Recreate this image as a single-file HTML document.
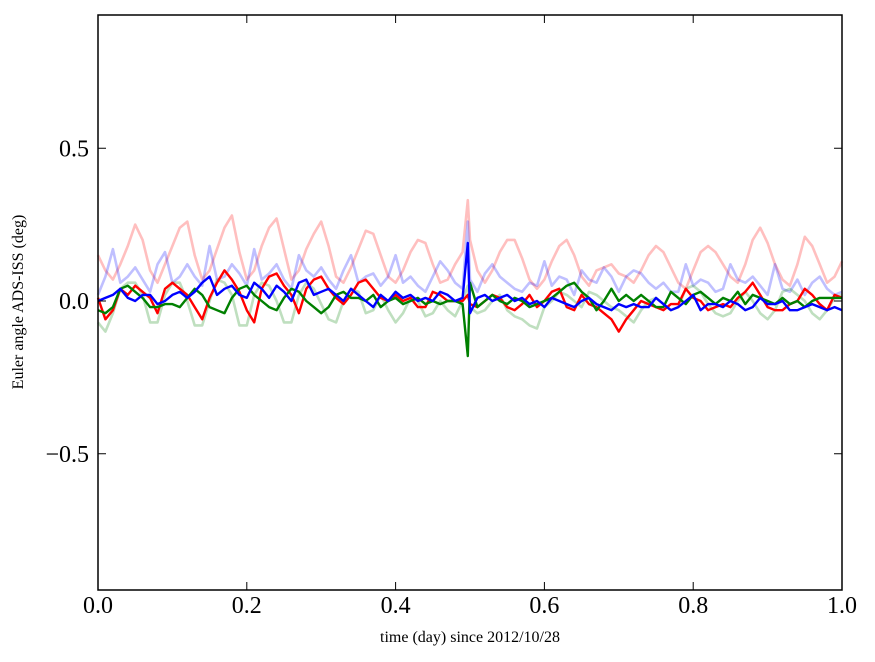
<!DOCTYPE html>
<html><head><meta charset="utf-8"><style>
html,body{margin:0;padding:0;background:#fff;}
svg{display:block;font-family:"Liberation Serif",serif;}
</style></head><body>
<svg id="chart" width="875" height="662" viewBox="0 0 875 662" xmlns="http://www.w3.org/2000/svg">
<rect x="0" y="0" width="875" height="662" fill="#fff"/>
<g id="series"></g>
<g id="axes"></g>
<text x="470" y="642" text-anchor="middle" font-size="16">time (day) since 2012/10/28</text>
<text transform="translate(23,302) rotate(-90)" text-anchor="middle" font-size="16">Euler angle ADS-ISS (deg)</text>
</svg>
<script>
const times=[0,.01,.02,.03,.04,.05,.06,.07,.08,.09,.10,.11,.12,.13,.14,.15,.16,.17,.18,.19,.20,.21,.22,.23,.24,.25,.26,.27,.28,.29,.30,.31,.32,.33,.34,.35,.36,.37,.38,.39,.40,.41,.42,.43,.44,.45,.46,.47,.48,.49,.497,.50,.51,.52,.53,.54,.55,.56,.57,.58,.59,.60,.61,.62,.63,.64,.65,.66,.67,.68,.69,.70,.71,.72,.73,.74,.75,.76,.77,.78,.79,.80,.81,.82,.83,.84,.85,.86,.87,.88,.89,.90,.91,.92,.93,.94,.95,.96,.97,.98,.99,1.00];
const lightRed=[.15,.1,.07,.12,.18,.25,.2,.1,.06,.12,.18,.24,.26,.15,.07,.1,.17,.24,.28,.16,.07,.1,.18,.24,.27,.17,.07,.1,.17,.22,.26,.18,.08,.06,.11,.17,.23,.22,.15,.08,.06,.1,.16,.2,.19,.12,.06,.07,.12,.16,.33,.2,.1,.06,.1,.16,.2,.2,.14,.07,.04,.07,.13,.18,.2,.15,.08,.05,.1,.11,.12,.09,.08,.06,.1,.15,.18,.16,.11,.06,.04,.1,.16,.18,.16,.12,.08,.06,.12,.2,.24,.19,.12,.07,.05,.12,.21,.18,.12,.06,.08,.13];
const lightBlue=[.02,.08,.17,.06,.08,.11,.07,.03,.12,.16,.06,.08,.12,.08,.05,.18,.07,.08,.12,.09,.05,.17,.07,.09,.12,.07,.04,.15,.1,.08,.11,.07,.04,.1,.15,.06,.08,.09,.05,.08,.15,.06,.08,.05,.03,.08,.13,.1,.06,.04,.26,.07,.03,.09,.12,.08,.06,.04,.03,.06,.05,.13,.05,.08,.07,.02,.1,.07,.06,.11,.08,.03,.08,.1,.09,.06,.04,.06,.03,.03,.12,.05,.07,.06,.03,.04,.12,.07,.06,.08,.05,.02,.12,.04,.03,.07,.02,.06,.08,.04,.02,.03];
const lightGreen=[-.07,-.1,-.04,.04,.06,.06,.02,-.07,-.07,.02,.06,.06,0,-.08,-.08,0,.07,.06,.02,-.08,-.08,.02,.06,.05,0,-.07,-.07,.02,.06,.04,-.01,-.06,-.07,0,.04,.03,-.04,-.03,.02,-.03,-.07,-.04,.01,0,-.05,-.04,0,-.03,-.05,0,.05,-.02,-.04,-.03,0,.02,-.03,-.05,-.06,-.08,-.09,-.02,0,.03,.02,0,-.02,.03,.02,0,-.02,-.03,-.05,-.07,-.03,0,.01,-.01,-.03,-.02,.04,.05,.03,-.01,-.04,-.05,-.04,0,.03,0,-.04,-.06,-.03,.03,.04,.02,0,-.04,-.06,-.03,.01,.02];
const redVals=[.01,-.06,-.03,.04,.02,.05,.03,.01,-.04,.04,.06,.04,.02,-.02,-.06,.01,.06,.1,.07,.03,-.03,-.07,.04,.08,.09,.05,.02,-.04,.04,.07,.08,.04,.01,-.01,.02,.06,.07,.04,.01,0,.02,0,.01,-.02,-.02,.03,.02,0,0,0,.02,-.01,-.02,0,.02,.01,-.02,-.03,-.01,.02,-.02,0,.03,.04,-.02,-.03,.02,-.01,-.02,-.04,-.06,-.1,-.06,-.03,0,-.01,-.02,-.03,-.01,-.01,.04,.01,0,-.03,-.02,-.01,-.02,.01,.03,.06,.02,-.02,-.03,-.03,-.01,0,.04,.02,-.01,-.03,.02,.01];
const greenVals=[-.03,-.04,-.02,.04,.05,.03,.01,-.02,-.02,-.01,-.01,-.02,.01,.04,.02,-.02,-.03,-.04,.01,.04,.05,.02,0,-.02,-.03,.01,.04,.03,0,-.02,-.04,-.02,.02,.03,.01,.01,0,.02,-.02,0,.01,-.01,0,.01,-.01,0,-.01,0,0,-.01,-.18,.06,-.02,0,.02,0,-.01,.01,0,-.02,-.01,0,.01,.03,.05,.06,.03,.01,-.03,0,.04,0,.02,0,.02,0,-.02,-.02,.03,.01,-.01,.02,.03,.01,-.01,.01,0,.03,-.01,.02,.01,0,-.01,.01,-.01,0,-.02,0,.01,.01,.01,.01];
const blueVals=[0,.01,.02,.04,.01,0,.02,.02,-.01,0,.02,.03,.01,.03,.06,.08,.02,.04,.05,.02,.01,.06,.04,.01,.05,.03,0,.06,.07,.02,.03,.04,.02,0,.04,.02,0,-.02,.02,0,.03,.01,.02,0,.01,0,.03,.02,0,.01,.19,-.04,.01,.02,0,.01,.02,0,.01,-.01,0,-.02,.01,0,-.01,-.02,0,.01,-.01,-.02,-.03,-.01,-.02,-.01,-.02,-.02,.01,-.01,-.03,-.02,0,.02,-.03,-.01,-.01,-.02,0,-.01,-.03,-.02,.01,-.01,-.01,0,-.03,-.03,-.02,-.01,-.02,-.03,-.02,-.03];
const xTicks=[0,0.2,0.4,0.6,0.8,1.0];
const xTickLabels=["0.0","0.2","0.4","0.6","0.8","1.0"];
const yTicks=[0.5,0,-0.5];
const yTickLabels=["0.5","0.0","\u22120.5"];

const L=98,R=842,T=15,B=590;
const xs=v=>L+v*(R-L);
const ys=v=>301-v*305.5;
const NS="http://www.w3.org/2000/svg";
const sg=document.getElementById('series');
function line(vals,color,op,w,name){
  const p=document.createElementNS(NS,'path');
  let d='';
  vals.forEach((v,i)=>{d+=(i?'L':'M')+xs(times[i]).toFixed(1)+','+ys(v).toFixed(1);});
  p.setAttribute('d',d);p.setAttribute('fill','none');p.setAttribute('stroke',color);
  p.setAttribute('stroke-opacity',op);p.setAttribute('stroke-width',w);p.setAttribute('stroke-linejoin','round');
  
  
  sg.appendChild(p);
}
line(lightRed,'#ff0000',0.25,2.6,'light-red-series');
line(lightBlue,'#0000ff',0.25,2.6,'light-blue-series');
line(lightGreen,'#008000',0.25,2.6,'light-green-series');
line(redVals,'#ff0000',1,2.4,'red-series');
line(greenVals,'#008000',1,2.4,'green-series');
line(blueVals,'#0000ff',1,2.4,'blue-series');

const ag=document.getElementById('axes');
const frame=document.createElementNS(NS,'rect');
frame.setAttribute('x',L);frame.setAttribute('y',T);frame.setAttribute('width',R-L);frame.setAttribute('height',B-T);
frame.setAttribute('fill','none');frame.setAttribute('stroke','#000');frame.setAttribute('stroke-width','1.5');


ag.appendChild(frame);
function seg(x1,y1,x2,y2){const l=document.createElementNS(NS,'line');l.setAttribute('x1',x1);l.setAttribute('y1',y1);l.setAttribute('x2',x2);l.setAttribute('y2',y2);l.setAttribute('stroke','#000');l.setAttribute('stroke-width','1');ag.appendChild(l);return l;}
xTicks.forEach((v,i)=>{
  const x=xs(v);
  const t1=seg(x,B,x,B-8);
  
  
  const t2=seg(x,T,x,T+8);
  
  
  const t=document.createElementNS(NS,'text');
  t.setAttribute('x',x);t.setAttribute('y',613);t.setAttribute('text-anchor','middle');t.setAttribute('font-size','24');
  t.textContent=xTickLabels[i];
  
  
  ag.appendChild(t);
});
yTicks.forEach((v,i)=>{
  const y=ys(v);
  const t1=seg(L,y,L+8,y);
  
  
  const t2=seg(R,y,R-8,y);
  
  
  const t=document.createElementNS(NS,'text');
  t.setAttribute('x',89);t.setAttribute('y',y+8);t.setAttribute('text-anchor','end');t.setAttribute('font-size','24');
  t.textContent=yTickLabels[i];
  
  
  ag.appendChild(t);
});
</script>
</body></html>
